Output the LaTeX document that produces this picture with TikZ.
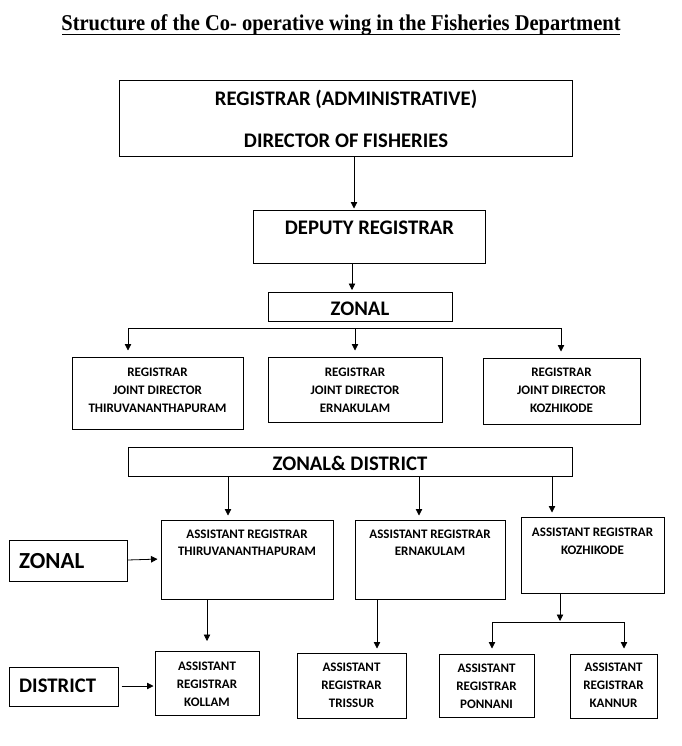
\documentclass[tikz,border=0pt]{standalone}
\usepackage{fontspec}
\setmainfont{Carlito}
\newfontfamily\titlefont{Liberation Serif}
\usetikzlibrary{arrows.meta}
\begin{document}
\begin{tikzpicture}[x=1pt,y=-1pt,
  box/.style={draw,line width=1pt,inner sep=0pt,minimum width=#1},
  big/.style={font=\bfseries\fontsize{20.7}{22}\selectfont,inner sep=0pt},
  small/.style={font=\bfseries\fontsize{13}{18}\selectfont,inner sep=0pt,align=center},
  arr/.style={line width=0.8pt,-{Triangle[length=6.5pt,width=6.5pt]}},
  ln/.style={line width=0.8pt}]
\useasboundingbox[fill=white] (0,0) rectangle (681,746);
% title
\node[inner sep=0pt,anchor=base,yscale=1.1] (title) at (341,31) {\titlefont\bfseries\fontsize{20.5}{22}\selectfont Structure of the Co- operative wing in the Fisheries Department};
\draw[line width=1.3pt] (62,34.5) -- (620,34.5);
% boxes
\node[box=453pt,minimum height=76pt] (reg) at (345.5,119) {};
\node[big] (regt1) at (346,99) {REGISTRAR (ADMINISTRATIVE)};
\node[big] (regt2) at (346,141) {DIRECTOR OF FISHERIES};
\node[box=232pt,minimum height=53pt] (dep) at (369.5,236.5) {};
\node[big] (dept) at (369.5,228) {DEPUTY REGISTRAR};
\node[box=184pt,minimum height=29pt] (zon) at (360,306.5) {};
\node[big] (zont) at (360,309) {ZONAL};
\node[box=171pt,minimum height=72pt] (ra) at (157.5,393) {};
\node[small] (rat) at (157.5,390) {REGISTRAR\\JOINT DIRECTOR\\THIRUVANANTHAPURAM};
\node[box=174pt,minimum height=65pt] (rb) at (355,389.5) {};
\node[small] (rbt) at (355,390) {REGISTRAR\\JOINT DIRECTOR\\ERNAKULAM};
\node[box=157pt,minimum height=66pt] (rc) at (561.5,391) {};
\node[small] (rct) at (561.5,390) {REGISTRAR\\JOINT DIRECTOR\\KOZHIKODE};
\node[box=444pt,minimum height=29pt] (zd) at (350,461.5) {};
\node[big] (zdt) at (350,463) {ZONAL\& DISTRICT};
\node[box=172pt,minimum height=79pt] (art) at (247,559.5) {};
\node[small,font=\bfseries\fontsize{13}{16.5}\selectfont] (artt) at (247,543) {ASSISTANT REGISTRAR\\THIRUVANANTHAPURAM};
\node[box=150pt,minimum height=79pt] (are) at (430,559.5) {};
\node[small,font=\bfseries\fontsize{13}{16.5}\selectfont] (aret) at (430,543) {ASSISTANT REGISTRAR\\ERNAKULAM};
\node[box=143pt,minimum height=76pt] (ark) at (592.5,555) {};
\node[small] (arkt) at (592.5,541) {ASSISTANT REGISTRAR\\KOZHIKODE};
\node[box=118pt,minimum height=41pt] (szon) at (68,560.5) {};
\node[inner sep=0pt,anchor=west,font=\bfseries\fontsize{23}{24}\selectfont] (szont) at (19,561) {ZONAL};
\node[box=109pt,minimum height=39pt] (sdis) at (63.5,686.5) {};
\node[inner sep=0pt,anchor=west,font=\bfseries\fontsize{20.7}{24}\selectfont] (sdist) at (19,686) {DISTRICT};
\node[box=104pt,minimum height=64pt] (kol) at (207,683.5) {};
\node[small] (kolt) at (207,684) {ASSISTANT\\REGISTRAR\\KOLLAM};
\node[box=109pt,minimum height=65pt] (tri) at (351.5,685.5) {};
\node[small] (trit) at (351.5,685) {ASSISTANT\\REGISTRAR\\TRISSUR};
\node[box=95pt,minimum height=63pt] (pon) at (486.5,685.5) {};
\node[small] (pont) at (486.5,686) {ASSISTANT\\REGISTRAR\\PONNANI};
\node[box=87pt,minimum height=64pt] (kan) at (613.5,686) {};
\node[small] (kant) at (613.5,685) {ASSISTANT\\REGISTRAR\\KANNUR};
% connectors
\draw[arr,shorten >=1pt] ([xshift=8.5pt]reg.south) -- ([xshift=-15.5pt]dep.north);
\draw[arr,shorten >=1.5pt] ([xshift=-17.5pt]dep.south) -- ([xshift=-8pt]zon.north);
\coordinate (b1) at (128,328);
\coordinate (b2) at (355,328);
\coordinate (b3) at (561,328);
\draw[ln] (b1) -- (b3);
\draw[arr,shorten >=6pt] (b1) -- (b1 |- ra.north);
\draw[arr,shorten >=6pt] (b2) -- (b2 |- rb.north);
\draw[arr,shorten >=6pt] (b3) -- (b3 |- rc.north);
\coordinate (z1) at (228,476);
\coordinate (z2) at (419,476);
\coordinate (z3) at (552,476);
\draw[arr,shorten >=4pt] (z1) -- (z1 |- art.north);
\draw[arr,shorten >=4pt] (z2) -- (z2 |- are.north);
\draw[arr,shorten >=4pt] (z3) -- (z3 |- ark.north);
\draw[arr,shorten >=3pt] ([yshift=0.5pt]szon.east) -- ([yshift=1.5pt]art.west |- szon.east);
\draw[arr,shorten >=1pt] ([yshift=0.5pt]sdis.east) ++(3,0) -- ([yshift=0.5pt]kol.west |- sdis.east);
\coordinate (d1) at (207,599);
\coordinate (d2) at (377,599);
\draw[arr,shorten >=10pt] (d1) -- (d1 |- kol.north);
\draw[arr,shorten >=4pt] (d2) -- (d2 |- tri.north);
\coordinate (k0) at (560,593);
\coordinate (k1) at (492,622);
\coordinate (k2) at (624,622);
\coordinate (km) at (560,622);
\draw[arr,shorten >=1pt] (k0) -- (km);
\draw[ln] (k1) -- (k2);
\draw[arr,shorten >=5pt] (k1) -- (k1 |- pon.north);
\draw[arr,shorten >=5pt] (k2) -- (k2 |- kan.north);
\end{tikzpicture}
\end{document}
